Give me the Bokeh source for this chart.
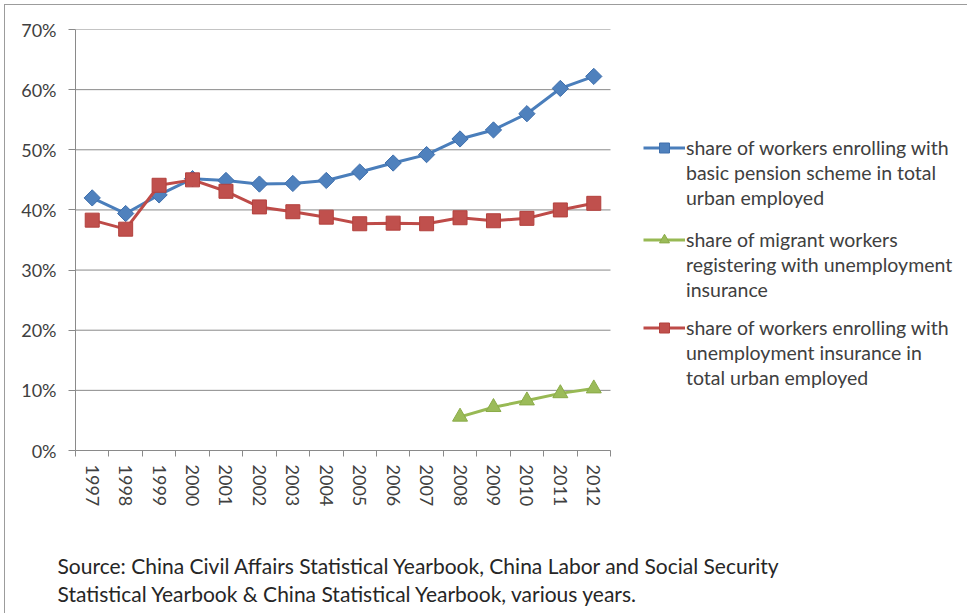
import numpy as np
from bokeh.plotting import figure
from bokeh.layouts import column
from bokeh.models import (FixedTicker, NumeralTickFormatter, Legend, LegendItem,
                          Title, Range1d)
from bokeh.embed import file_html
from bokeh.resources import INLINE

# Years on the horizontal axis
years = list(range(1997, 2013))

# Share of workers enrolling with basic pension scheme in total urban employed
pension = [0.420, 0.394, 0.425, 0.452, 0.449, 0.443, 0.444, 0.449, 0.463, 0.478,
           0.492, 0.518, 0.533, 0.560, 0.602, 0.622]

# Share of workers enrolling with unemployment insurance in total urban employed
unemp = [0.383, 0.368, 0.441, 0.450, 0.431, 0.405, 0.397, 0.388, 0.377, 0.378,
         0.377, 0.387, 0.382, 0.386, 0.400, 0.411]

# Share of migrant workers registering with unemployment insurance (2008 onward)
migrant_years = [2008, 2009, 2010, 2011, 2012]
migrant = [0.056, 0.072, 0.083, 0.095, 0.103]

y_ticks = [0.0, 0.1, 0.2, 0.3, 0.4, 0.5, 0.6, 0.7]

legend_labels = [
    "share of workers enrolling with\nbasic pension scheme in total\nurban employed",
    "share of migrant workers\nregistering with unemployment\ninsurance",
    "share of workers enrolling with\nunemployment insurance in\ntotal urban employed",
]

source_text = ("Source: China Civil Affairs Statistical Yearbook, China Labor and Social Security\n"
               "Statistical Yearbook & China Statistical Yearbook, various years.")

FONT = "Lato"
GRAY = "#8a8a8a"
TEXT = "#404040"

BLUE, BLUE_EDGE = "#4f81bd", "#3e6fad"
RED, RED_EDGE = "#c0504d", "#b3403d"
GREEN, GREEN_EDGE = "#9bbb59", "#8aab48"

W = 963
H_CHART, H_NOTE = 525, 84
LEFT, TOP, BOTTOM = 70, 24, 80
PLOT_W = 535        # width taken by the 16 year slots
FRAME_W = W - LEFT  # frame runs to the right edge so the legend sits inside it

x_start = years[0] - 0.5
x_end = x_start + len(years) * FRAME_W / PLOT_W
x_stop = years[-1] + 0.5

p = figure(width=W, height=H_CHART, output_backend="svg", toolbar_location=None,
           x_range=Range1d(x_start, x_end), y_range=Range1d(0, 0.7),
           min_border_left=LEFT, min_border_right=0,
           min_border_top=TOP, min_border_bottom=BOTTOM)
p.outline_line_color = None
p.background_fill_color = "white"
p.border_fill_color = "white"

# Horizontal gridlines over the year span only
p.segment(x0=x_start, x1=x_stop, y0=y_ticks, y1=y_ticks, line_color=GRAY, line_width=1)
p.xgrid.grid_line_color = None
p.ygrid.grid_line_color = None

# Axes
p.xaxis.bounds = (x_start, x_stop)
p.xaxis.ticker = FixedTicker(ticks=years,
                             minor_ticks=[y - 0.5 for y in years] + [x_stop])
p.xaxis.major_label_overrides = {y: str(y) for y in years}
p.xaxis.major_label_orientation = "vertical"
p.xaxis.major_tick_line_color = None
p.xaxis.minor_tick_in = 0
p.xaxis.minor_tick_out = 6
p.xaxis.minor_tick_line_color = GRAY
p.xaxis.axis_line_color = GRAY
p.xaxis.major_label_standoff = 8
p.xaxis.major_label_text_font = FONT
p.xaxis.major_label_text_font_size = "18px"
p.xaxis.major_label_text_color = TEXT

p.yaxis.ticker = FixedTicker(ticks=y_ticks)
p.yaxis.formatter = NumeralTickFormatter(format="0%")
p.yaxis.minor_tick_line_color = None
p.yaxis.major_tick_in = 0
p.yaxis.major_tick_out = 7
p.yaxis.major_tick_line_color = GRAY
p.yaxis.axis_line_color = GRAY
p.yaxis.major_label_standoff = 12
p.yaxis.major_label_text_font = FONT
p.yaxis.major_label_text_font_size = "18px"
p.yaxis.major_label_text_color = TEXT

# Series
l_pen = p.line(years, pension, line_color="#4a7ebb", line_width=3)
s_pen = p.scatter(years, pension, marker="square", angle=np.pi / 4, size=11.5,
                  fill_color=BLUE, line_color=BLUE_EDGE, line_width=1)

l_mig = p.line(migrant_years, migrant, line_color="#98b954", line_width=3)
s_mig = p.scatter(migrant_years, migrant, marker="triangle", size=15,
                  fill_color=GREEN, line_color=GREEN_EDGE, line_width=1)

l_une = p.line(years, unemp, line_color="#be4b48", line_width=3)
s_une = p.scatter(years, unemp, marker="square", size=14,
                  fill_color=RED, line_color=RED_EDGE, line_width=1)

# One key block per series: the glyph sits on the first line, the wrapped
# description continues on the lines below it.
series_renderers = [[l_pen, s_pen], [l_mig, s_mig], [l_une, s_une]]
block_bottoms = [240, 148, 60]   # px above the frame bottom
for label, rends, yb in zip(legend_labels, series_renderers, block_bottoms):
    lines = label.split("\n")
    items = [LegendItem(label=lines[0], renderers=rends)]
    items += [LegendItem(label=ln, renderers=[]) for ln in lines[1:]]
    p.add_layout(Legend(
        items=items, location=(568, yb),
        glyph_width=42, glyph_height=25, label_height=25,
        label_standoff=1, spacing=0, padding=0, margin=0,
        border_line_color=None, background_fill_alpha=0,
        label_text_font=FONT, label_text_font_size="19.5px",
        label_text_color=TEXT,
    ), "center")

# Source note beneath the chart
note = figure(width=W, height=H_NOTE, output_backend="svg", toolbar_location=None,
              x_range=Range1d(0, 1), y_range=Range1d(0, 1),
              x_axis_location=None, y_axis_location=None,
              min_border_left=LEFT, min_border_right=0,
              min_border_top=80, min_border_bottom=0, outline_line_color=None)
note.grid.visible = False
note.add_layout(Title(text=source_text, align="left", offset=-18, standoff=10,
                      text_font=FONT, text_font_size="21px", text_line_height=1.11,
                      text_font_style="normal", text_color="#262626"), "above")

page = column(p, note, spacing=0)
page.margin = (5, 0, 0, 5)
page.styles = {"box-shadow": "-1px -1px 0 #9c9c9c"}

open("out.html", "w").write(file_html(page, INLINE))
